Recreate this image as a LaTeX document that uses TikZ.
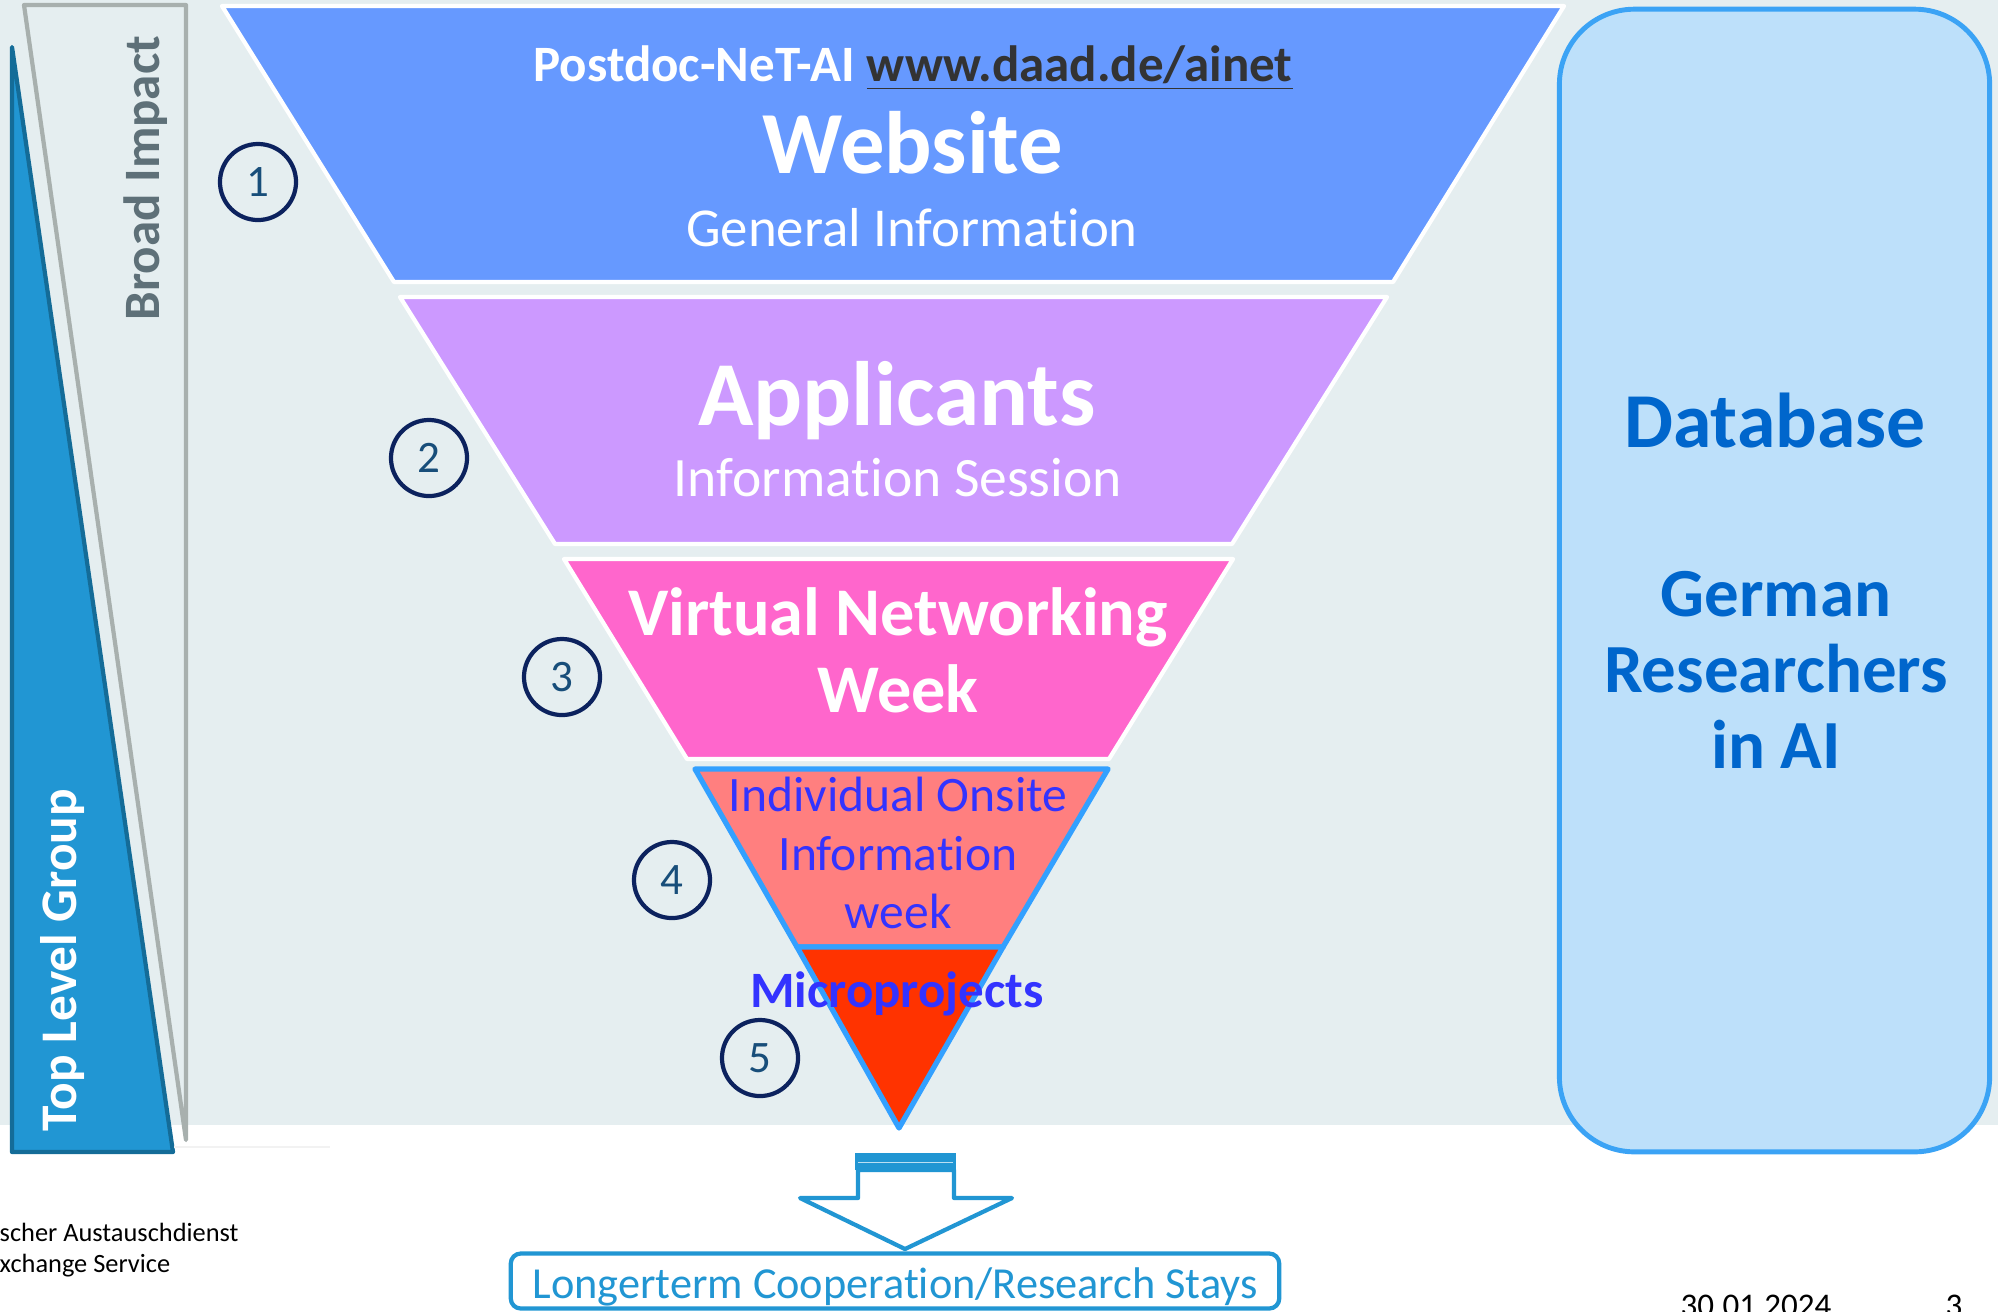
\documentclass[tikz,border=0pt]{standalone}
\usepackage{fontspec}
\setmainfont{Carlito}[Ligatures=NoCommon]
\usetikzlibrary{positioning}
\definecolor{panel}{RGB}{229,238,240}
\definecolor{webblue}{RGB}{102,153,255}
\definecolor{applilac}{RGB}{204,153,255}
\definecolor{vnwpink}{RGB}{255,102,204}
\definecolor{onsitered}{RGB}{255,127,127}
\definecolor{microred}{RGB}{255,51,0}
\definecolor{funnelline}{RGB}{51,160,255}
\definecolor{navy}{RGB}{12,34,94}
\definecolor{numblue}{RGB}{24,78,122}
\definecolor{textblue}{RGB}{51,51,255}
\definecolor{linkgray}{RGB}{51,51,51}
\definecolor{dbfill}{RGB}{189,224,250}
\definecolor{dbline}{RGB}{59,163,245}
\definecolor{dbtext}{RGB}{0,102,204}
\definecolor{skyblue}{RGB}{33,150,211}
\definecolor{skydark}{RGB}{20,108,152}
\definecolor{impactgray}{RGB}{168,176,174}
\definecolor{impacttext}{RGB}{94,112,120}
\newcommand{\fs}[1]{\fontsize{#1}{1.2\dimexpr#1pt\relax}\selectfont}

\begin{document}
\begin{tikzpicture}[x=0.01cm,y=-0.01cm,line join=round,
    tier/.style={draw=white,line width=1.2pt},
    low tier/.style={draw=funnelline,line width=1.5pt},
    num/.style={circle,draw=navy,line width=1.2pt,minimum size=0.76cm,inner sep=0pt,text=numblue,font=\fs{12.8}},
    label/.style={anchor=base,align=center},
    side/.style={rotate=90,anchor=base,font=\bfseries\fs{14.5}}]
    \useasboundingbox (0,0) rectangle (1998,1311);
    \fill[panel] (0,0) rectangle (1998,1125);

    % left wedges
    \draw[impactgray,line width=1.2pt,fill=panel] (24,5) -- (186,5) -- (186,1140) -- cycle;
    \draw[skydark,line width=1.2pt,fill=skyblue] (12,47) -- (12,1152) -- (173,1152) -- cycle;
    \draw[gray!10,line width=0.5pt] (174,1147) -- (330,1147);
    \node[side,text=impacttext] (broad) at (159,178) {Broad Impact};
    \node[side,text=white,font=\bfseries\fs{14.6}] (toplevel) at (76,960) {Top Level Group};

    % funnel
    \path[tier,fill=webblue] (222,6) -- (1564,6) -- (1393,282) -- (394,282) -- cycle;
    \path[tier,fill=applilac] (400,297) -- (1387,297) -- (1232,544) -- (555,544) -- cycle;
    \path[tier,fill=vnwpink] (564,559) -- (1233,559) -- (1109,759) -- (687,759) -- cycle;
    \path[low tier,fill=onsitered] (695,769) -- (1108,769) -- (1003,947) -- (797,947) -- cycle;
    \path[low tier,fill=microred] (797,947) -- (1003,947) -- (899,1128) -- cycle;

    \node[label,text=white,font=\bfseries\fs{14.5}] (postdoc) at (913,81)
        {Postdoc-NeT-AI \textcolor{linkgray}{\underline{www.daad.de/ainet}}};
    \node[label,text=white,font=\bfseries\fs{25.2}] (website) at (913,173) {Website};
    \node[label,text=white,font=\fs{15.6}] (general) at (912,246) {General Information};
    \node[label,text=white,font=\bfseries\fs{26}] (applicants) at (897,425) {Applicants};
    \node[label,text=white,font=\fs{15.8}] (session) at (898,496) {Information Session};
    \node[label,text=white,font=\bfseries\fontsize{19.4}{21.9}\selectfont] (virtual) at (898,712) {Virtual Networking\\Week};
    \node[label,text=textblue,font=\fontsize{14.1}{16.5}\selectfont] (onsite) at (898,928) {Individual Onsite\\Information\\week};
    \node[label,text=textblue,font=\bfseries\fs{14.5}] (micro) at (897,1007) {Microprojects};

    % step numbers
    \node[num] (1) at (258,182) {1};
    \node[num] (2) at (429,458) {2};
    \node[num] (3) at (562,677) {3};
    \node[num] (4) at (672,880) {4};
    \node[num] (5) at (760,1058) {5};

    % database
    \node[draw=dbline,fill=dbfill,line width=1.4pt,rounded corners=0.75cm,minimum width=4.3cm,minimum height=11.42cm] (db) at (1774.5,580.5) {};
    \node[label,text=dbtext,font=\bfseries\fs{22.1}] (dbtitle) at (1775,447) {Database};
    \node[label,text=dbtext,font=\bfseries\fontsize{19.6}{21.5}\selectfont] (dbgroup) at (1776,768) {German\\Researchers\\in AI};

    % outcome
    \fill[skyblue] (855,1153) rectangle (956,1170);
    \draw[white!70!skyblue,line width=0.3pt] (858,1162) -- (953,1162);
    \draw[skyblue,line width=1.2pt,fill=white] (858,1170) -- (858,1198) -- (800,1198) -- (905,1249)
        -- (1012,1198) -- (954,1198) -- (954,1170) -- cycle;
    \node[draw=skyblue,line width=1.2pt,rounded corners=0.1cm,fill=white,text=skyblue,font=\fs{12.6},
        text height=0.35cm,text depth=0pt,minimum width=7.68cm,minimum height=0.55cm,inner sep=0pt] (stays) at (895,1281) {Longerterm Cooperation/Research Stays};

    % footer
    \node[anchor=base west,inner sep=0pt,font=\fs{7.5}] (daad1) at (-1,1241) {scher Austauschdienst};
    \node[anchor=base west,inner sep=0pt,font=\fs{7.5}] (daad2) at (-1,1272) {xchange Service};
    \node[anchor=base west,inner sep=0pt,font=\fs{9.4}] (date) at (1680,1316) {30.01.2024};
    \node[anchor=base west,inner sep=0pt,font=\fs{9.4}] (page) at (1945,1316) {3};
\end{tikzpicture}
\end{document}
